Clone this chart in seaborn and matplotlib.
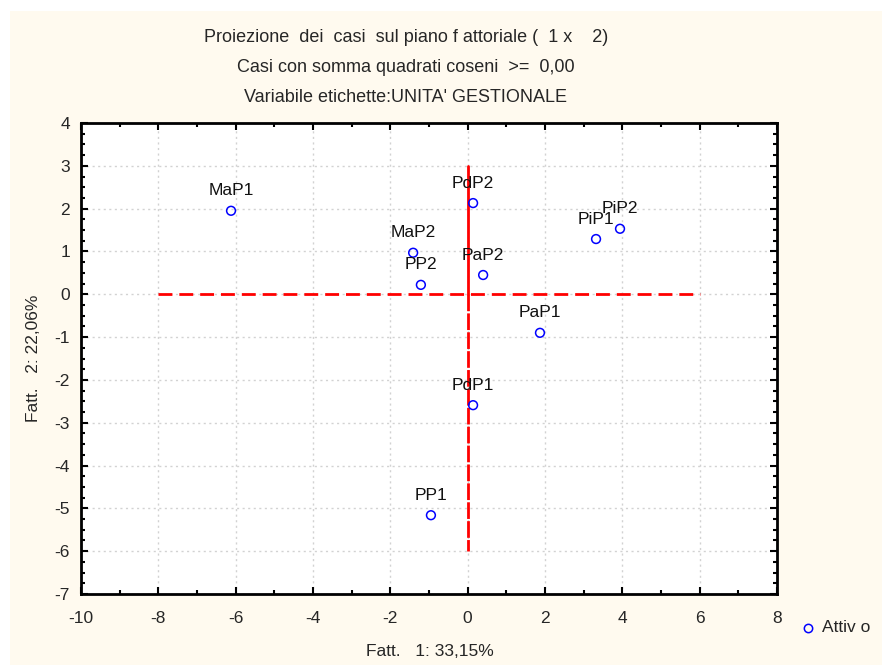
import matplotlib
matplotlib.use("Agg")
import matplotlib.pyplot as plt
import seaborn as sns
import pandas as pd
from matplotlib.patches import Rectangle
from matplotlib.ticker import MultipleLocator

labels = ["MaP1", "MaP2", "PP2", "PdP2", "PaP2", "PiP1", "PiP2", "PaP1", "PdP1", "PP1"]
fatt1 = [-6.12, -1.41, -1.21, 0.14, 0.40, 3.32, 3.94, 1.87, 0.14, -0.95]
fatt2 = [1.95, 0.97, 0.22, 2.13, 0.45, 1.29, 1.53, -0.90, -2.59, -5.16]
group = ["Attivo"] * len(labels)

hline_x = [-8, 6]
vline_solid_y = [3, 0]
vline_dash_y = [0, -6]

title_lines = ["Proiezione  dei  casi  sul piano f attoriale (  1 x    2)",
               "Casi con somma quadrati coseni  >=  0,00",
               "Variabile etichette:UNITA' GESTIONALE"]

df = pd.DataFrame({"x": fatt1, "y": fatt2, "lab": labels, "g": group})

sns.set_style("white")
plt.rcParams["font.family"] = ["Liberation Sans", "DejaVu Sans"]
plt.rcParams["axes.unicode_minus"] = False

fig = plt.figure(figsize=(8.82, 6.65), dpi=100)
fig.patch.set_facecolor("white")
fig.patches.append(Rectangle((10/882, 0.0), 1 - 10/882, 1 - 11/665,
                             transform=fig.transFigure, facecolor="#fffaef",
                             edgecolor="none", zorder=-10))

ax = fig.add_axes([81/882, 1 - 594/665, 696/882, 471/665])
ax.set_facecolor("white")

ax.plot(hline_x, [0, 0], color="#ff0000", lw=2, ls=(0, (5, 2.5)), zorder=2)
ax.plot([0, 0], vline_solid_y, color="#ff0000", lw=2, zorder=2)
ax.plot([0, 0], vline_dash_y, color="#ff0000", lw=2, ls=(0, (6, 0.8)), zorder=2)

sns.scatterplot(data=df, x="x", y="y", hue="g", palette={"Attivo": "none"},
                edgecolor="#0000ff", linewidth=1.1, s=40, marker="o",
                ax=ax, zorder=3, legend=False)

for xv, yv, lab in zip(fatt1, fatt2, labels):
    ax.annotate(lab, (xv, yv), xytext=(0, 9), textcoords="offset points",
                ha="center", va="bottom", fontsize=12.5, color="#111111")

ax.set_xlim(-10, 8)
ax.set_ylim(-7, 4)
ax.xaxis.set_major_locator(MultipleLocator(2))
ax.xaxis.set_minor_locator(MultipleLocator(1))
ax.yaxis.set_major_locator(MultipleLocator(1))
ax.yaxis.set_minor_locator(MultipleLocator(0.25))
ax.grid(True, which="major", color="#d2d2d2", ls=(0, (1.5, 2.5)), lw=1)
ax.tick_params(which="both", direction="in", top=True, right=True,
               bottom=True, left=True, color="black")
ax.tick_params(which="major", length=5, width=1.5, labelsize=12.5, pad=12)
ax.tick_params(which="minor", length=3, width=1.5)
ax.tick_params(axis="y", which="major", pad=8)
for sp in ax.spines.values():
    sp.set_visible(True)
    sp.set_color("black")
    sp.set_linewidth(2)

ax.set_xlabel("")
ax.set_ylabel("")
fig.text(430/882, 1 - 652/665, "Fatt.   1: 33,15%", ha="center", va="center", fontsize=12.5)
fig.text(33/882, 1 - 358/665, "Fatt.   2: 22,06%", ha="center", va="center",
         rotation=90, fontsize=12.5)

for i, (t, yy) in enumerate(zip(title_lines, [38, 67, 97])):
    fig.text(406/882, 1 - yy/665, t, ha="center", va="center", fontsize=13)

fig.lines.append(matplotlib.lines.Line2D([808/882], [1 - 628/665], marker="o",
                 markersize=6, markerfacecolor="none", markeredgecolor="#0000ff",
                 markeredgewidth=1.1, transform=fig.transFigure))
fig.text(822/882, 1 - 628/665, "Attiv o", ha="left", va="center", fontsize=12.5)

fig.savefig("out.png", dpi=100, facecolor=fig.get_facecolor())
